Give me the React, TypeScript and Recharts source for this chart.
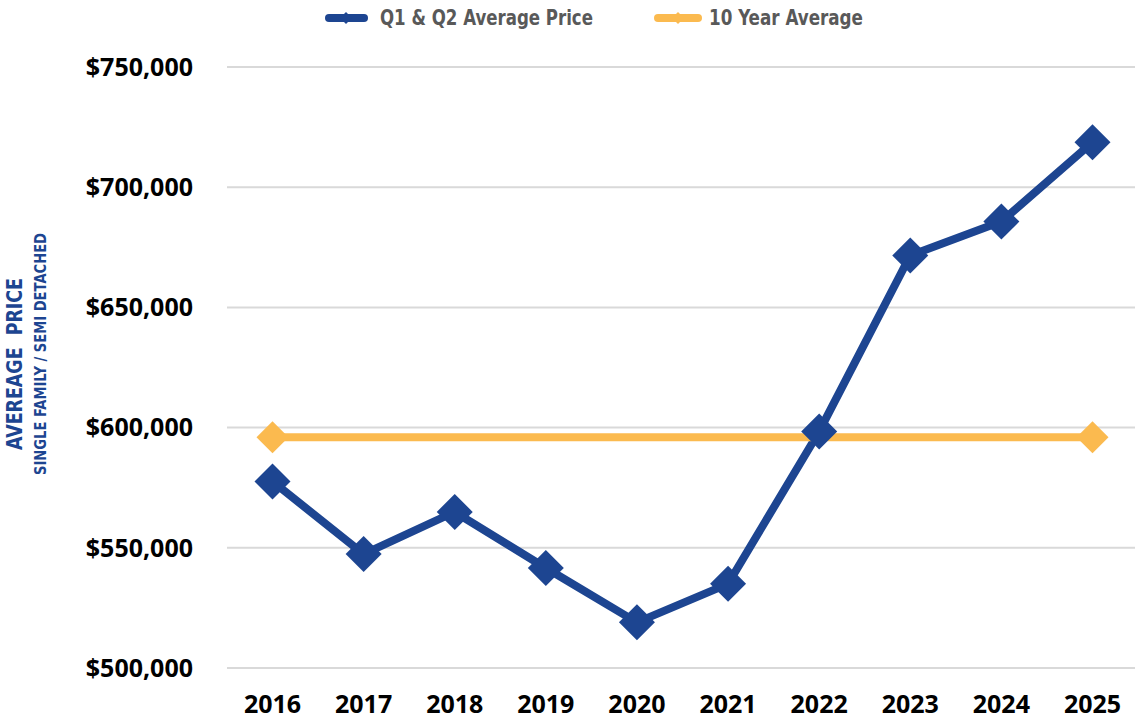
import React from 'react';
import { LineChart, Line, XAxis, YAxis, CartesianGrid } from 'recharts';

const years = ['2016', '2017', '2018', '2019', '2020', '2021', '2022', '2023', '2024', '2025'];
const avgPrice = [577600, 547400, 564900, 541600, 519000, 535000, 598400, 671600, 685700, 718700];
const tenYearAvg = [596000, 596000, 596000, 596000, 596000, 596000, 596000, 596000, 596000, 596000];
const yTicks = [500000, 550000, 600000, 650000, 700000, 750000];
const seriesNames = ['Q1 & Q2 Average Price', '10 Year Average'];
const yTitle = 'AVEREAGE\u00a0\u00a0PRICE';
const ySubTitle = 'SINGLE FAMILY / SEMI DETACHED';

const BLUE = '#1D4591';
const ORANGE = '#FBBA4F';

const data = years.map((y, i) => ({ year: y, price: avgPrice[i], avg: tenYearAvg[i] }));

const fmt = (v: number) => '$' + v.toLocaleString('en-US');

const makeDiamond = (r: number, color: string, endsOnly: boolean) => (props: any) => {
  const { cx, cy, index } = props;
  if (cx == null || cy == null) return <g key={'d' + index} />;
  if (endsOnly && index !== 0 && index !== years.length - 1) return <g key={'d' + index} />;
  const pts = `${cx},${cy - r} ${cx + r},${cy} ${cx},${cy + r} ${cx - r},${cy}`;
  return <polygon key={'d' + index} points={pts} fill={color} />;
};

const condensed = "'Liberation Sans Narrow', 'DejaVu Sans Condensed', 'Roboto', sans-serif";
const tickFont = "'Open Sans', 'Noto Sans', sans-serif";

export default function App() {
  return (
    <div style={{ position: 'absolute', left: 0, top: 0, width: 1135, height: 719, background: '#fff' }}>
      <LineChart
        width={1135}
        height={719}
        data={data}
        margin={{ top: 67, right: -3, bottom: 0, left: 0 }}
      >
        <CartesianGrid vertical={false} stroke="#d9d9d9" strokeWidth={2} />
        <XAxis
          dataKey="year"
          axisLine={false}
          tickLine={false}
          tickSize={0}
          tickMargin={27}
          height={51}
          interval={0}
          padding={{ left: 45.5, right: 45.5 }}
          tick={{ fill: '#000', fontFamily: tickFont, fontWeight: 700, fontSize: 25 }}
        />
        <YAxis
          domain={[500000, 750000]}
          ticks={yTicks}
          tickFormatter={fmt}
          axisLine={false}
          tickLine={false}
          tickSize={0}
          tickMargin={34}
          width={227}
          interval={0}
          tick={{ fill: '#000', fontFamily: tickFont, fontWeight: 700, fontSize: 25 }}
        />
        <Line
          dataKey="price"
          name={seriesNames[0]}
          stroke={BLUE}
          strokeWidth={8}
          dot={makeDiamond(18, BLUE, false)}
          activeDot={false}
          isAnimationActive={false}
        />
        <Line
          dataKey="avg"
          name={seriesNames[1]}
          stroke={ORANGE}
          strokeWidth={8}
          dot={makeDiamond(16, ORANGE, true)}
          activeDot={false}
          isAnimationActive={false}
        />
      </LineChart>
      <svg width={1135} height={719} style={{ position: 'absolute', left: 0, top: 0, pointerEvents: 'none' }}>
        <g>
          <line x1={329} y1={18} x2={364} y2={18} stroke={BLUE} strokeWidth={8} strokeLinecap="round" />
          <polygon points="346,12 352,18 346,24 340,18" fill={BLUE} />
          <text x={380} y={18} dominantBaseline="central" fontFamily={condensed} fontWeight={700} fontSize={21}
            textLength={213} lengthAdjust="spacingAndGlyphs" fill="#595959">
            {seriesNames[0]}
          </text>
        </g>
        <g>
          <line x1={658} y1={18} x2={698} y2={18} stroke={ORANGE} strokeWidth={8} strokeLinecap="round" />
          <polygon points="678,12 684,18 678,24 672,18" fill={ORANGE} />
          <text x={709} y={18} dominantBaseline="central" fontFamily={condensed} fontWeight={700} fontSize={21}
            textLength={154} lengthAdjust="spacingAndGlyphs" fill="#595959">
            {seriesNames[1]}
          </text>
        </g>
        <text
          transform="translate(22,364) rotate(-90)"
          textAnchor="middle"
          fontFamily={condensed}
          fontWeight={700}
          fontSize={21}
          textLength={172}
          lengthAdjust="spacingAndGlyphs"
          fill={BLUE}
        >
          {yTitle}
        </text>
        <text
          transform="translate(46,354) rotate(-90)"
          textAnchor="middle"
          fontFamily={condensed}
          fontWeight={700}
          fontSize={16}
          textLength={242}
          lengthAdjust="spacingAndGlyphs"
          fill={BLUE}
        >
          {ySubTitle}
        </text>
      </svg>
    </div>
  );
}
